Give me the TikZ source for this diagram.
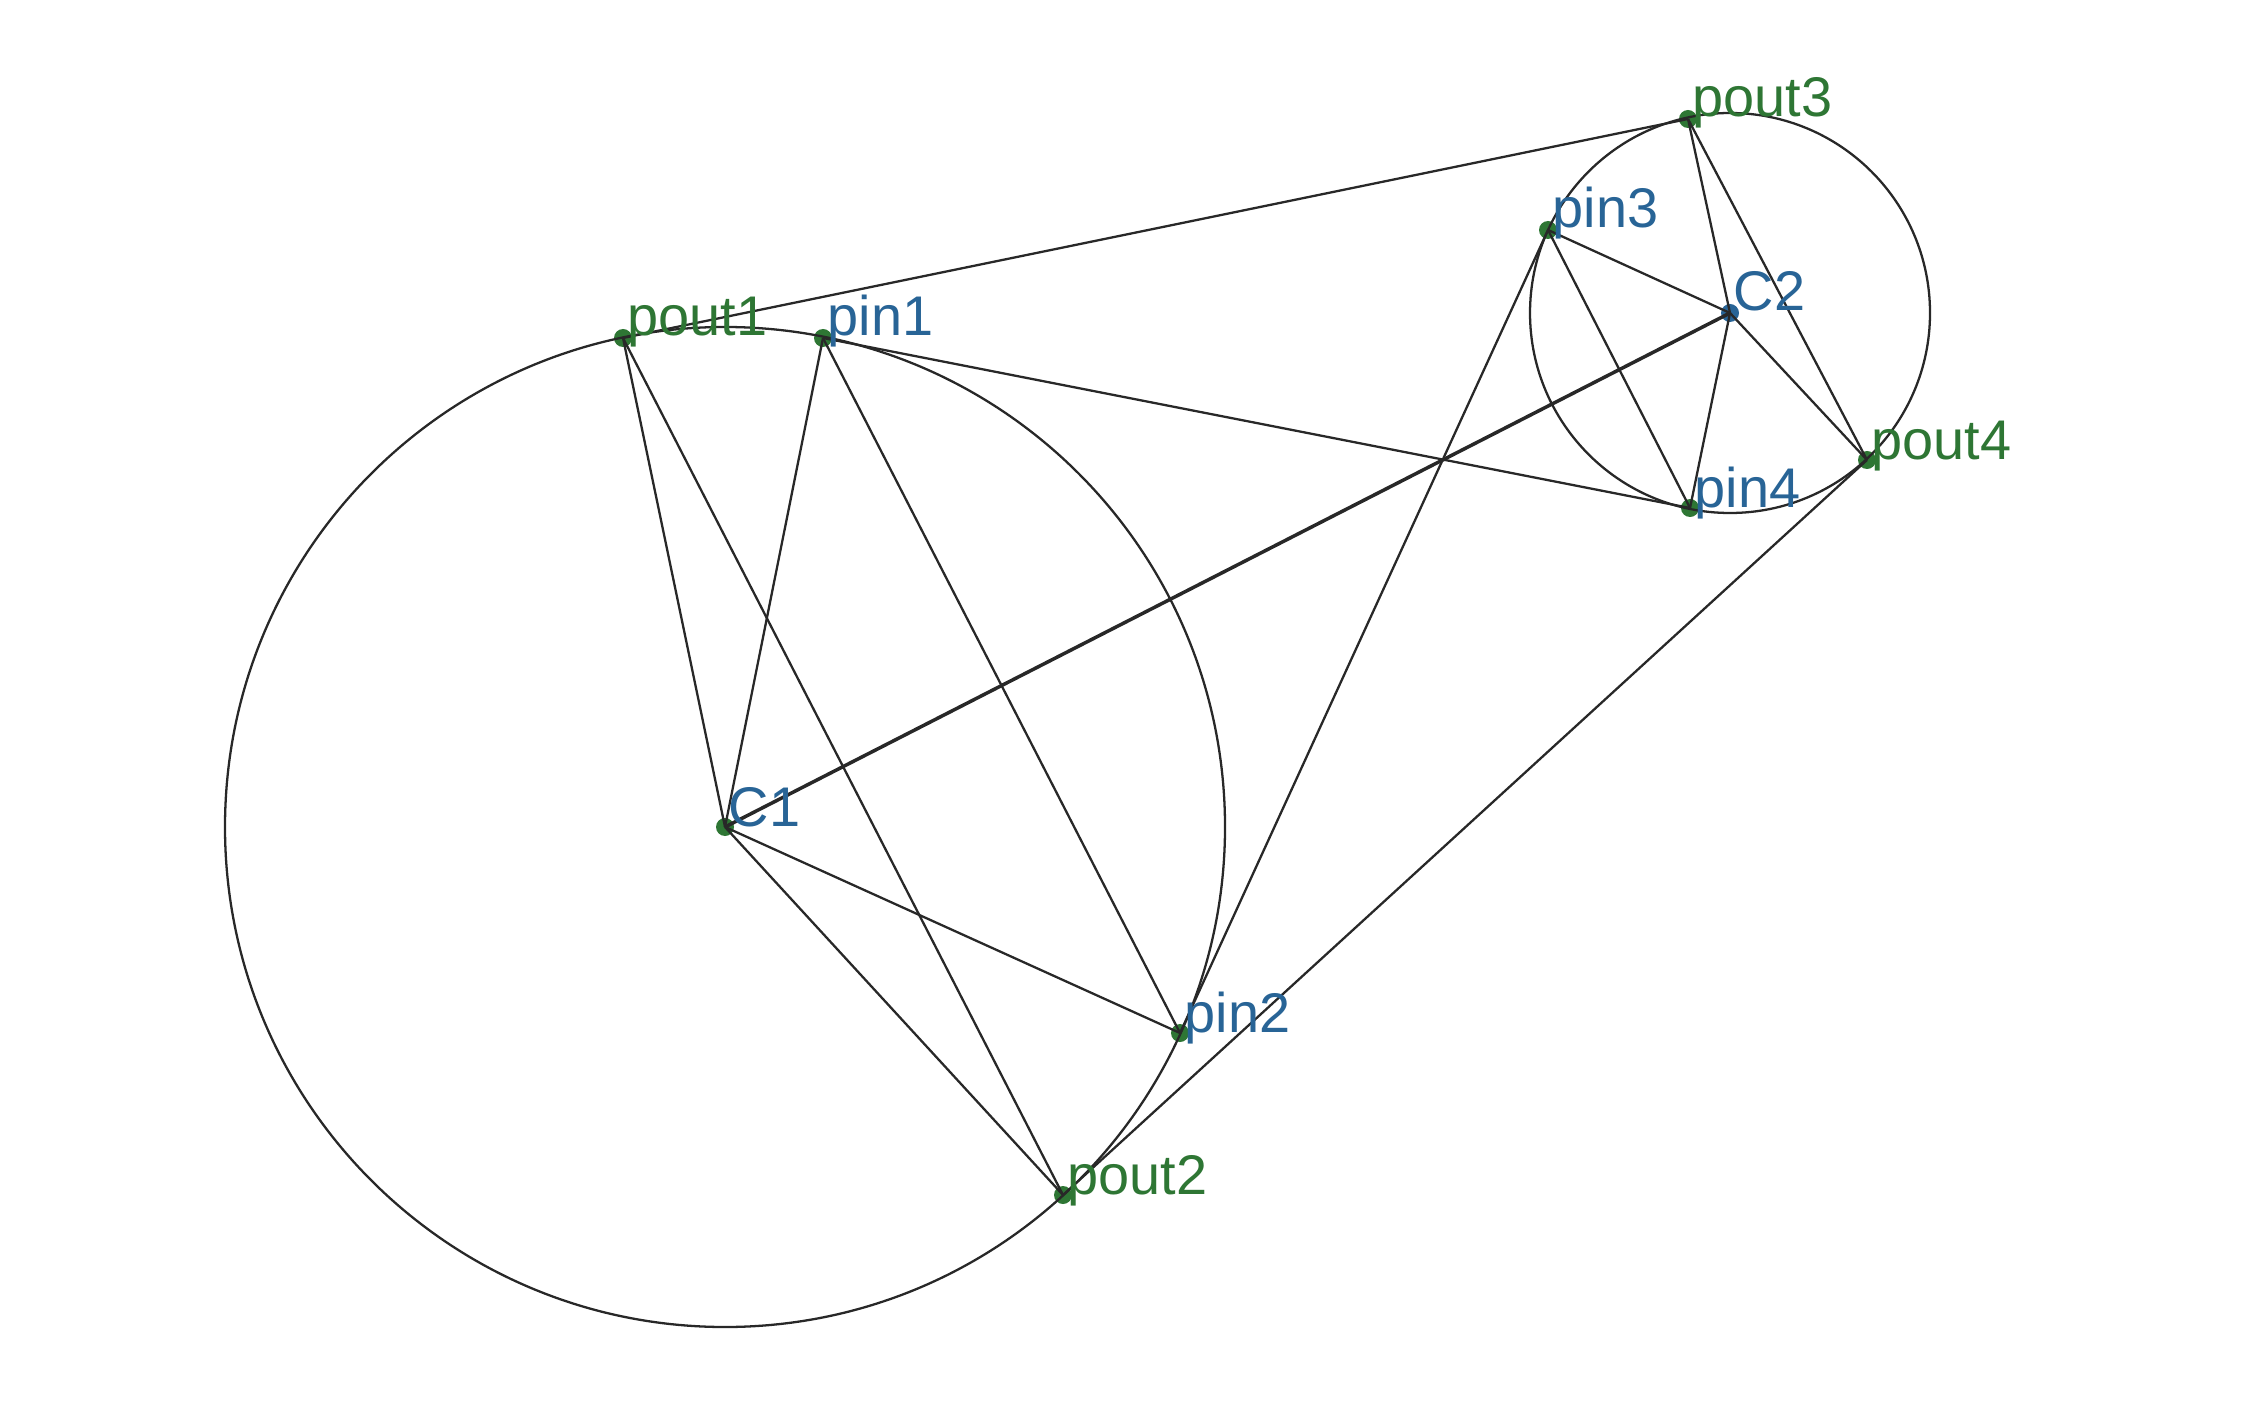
\documentclass[tikz,border=0pt]{standalone}
\usepackage{fontspec}
\setmainfont{Liberation Sans}
\usetikzlibrary{positioning,calc}
\definecolor{verde}{RGB}{46,118,52}
\definecolor{albastru}{RGB}{40,100,150}
\definecolor{linie}{RGB}{40,40,40}
\tikzset{
  punct/.style      = {circle, fill=verde, inner sep=0pt, minimum size=1.8mm},
  punctalb/.style   = {punct, fill=albastru},
  muchie/.style     = {draw=linie, line width=0.65pt},
  muchiedubla/.style= {muchie, line width=1pt},
  cerc/.style       = {draw=linie, line width=0.65pt},
  eticheta/.style   = {font=\fontsize{15.9}{19}\selectfont, inner sep=0pt, anchor=base west},
  etverde/.style    = {eticheta, text=verde},
  etalbastru/.style = {eticheta, text=albastru}
}

\begin{document}
\begin{tikzpicture}
  \useasboundingbox (0,0) rectangle (22.64,14.08);

  % noduri
  \node[punct]    (C1)    at (7.25,5.81)  {};
  \node[punctalb] (C2)    at (17.30,10.95) {};
  \node[punct]    (pout1) at (6.23,10.70) {};
  \node[punct]    (pin1)  at (8.23,10.70) {};
  \node[punct]    (pin2)  at (11.80,3.75) {};
  \node[punct]    (pout2) at (10.63,2.13) {};
  \node[punct]    (pin3)  at (15.48,11.78) {};
  \node[punct]    (pout3) at (16.88,12.89) {};
  \node[punct]    (pin4)  at (16.90,9.00) {};
  \node[punct]    (pout4) at (18.67,9.48) {};

  % cercuri
  \draw[cerc] (C1.center) circle (5);
  \draw[cerc] (C2.center) circle (2);

  % muchii
  \draw[muchie] (pout1.center) -- (pout3.center);
  \draw[muchie] (pout1.center) -- (C1.center);
  \draw[muchie] (pout1.center) -- (pout2.center);
  \draw[muchie] (pin1.center) -- (C1.center);
  \draw[muchie] (pin1.center) -- (pin2.center);
  \draw[muchie] (pin1.center) -- (pin4.center);
  \draw[muchiedubla] (C1.center) -- (C2.center);
  \draw[muchie] (C1.center) -- (pin2.center);
  \draw[muchie] (C1.center) -- (pout2.center);
  \draw[muchie] (pin2.center) -- (pin3.center);
  \draw[muchie] (pout2.center) -- (pout4.center);
  \draw[muchie] (pin3.center) -- (C2.center);
  \draw[muchie] (pin3.center) -- (pin4.center);
  \draw[muchie] (pout3.center) -- (C2.center);
  \draw[muchie] (pout3.center) -- (pout4.center);
  \draw[muchie] (C2.center) -- (pin4.center);
  \draw[muchie] (C2.center) -- (pout4.center);

  % etichete
  \node[etalbastru] (lC1)    at ($(C1)+(0.03,0.01)$)    {C1};
  \node[etalbastru] (lC2)    at ($(C2)+(0.03,0.02)$)    {C2};
  \node[etverde]    (lpout1) at ($(pout1)+(0.04,0.02)$) {pout1};
  \node[etalbastru] (lpin1)  at ($(pin1)+(0.04,0.02)$)  {pin1};
  \node[etalbastru] (lpin2)  at ($(pin2)+(0.04,0.01)$)  {pin2};
  \node[etverde]    (lpout2) at ($(pout2)+(0.04,0.01)$) {pout2};
  \node[etalbastru] (lpin3)  at ($(pin3)+(0.04,0.02)$)  {pin3};
  \node[etverde]    (lpout3) at ($(pout3)+(0.04,0.02)$) {pout3};
  \node[etalbastru] (lpin4)  at ($(pin4)+(0.04,0.0)$)   {pin4};
  \node[etverde]    (lpout4) at ($(pout4)+(0.04,0.0)$)  {pout4};
\end{tikzpicture}
\end{document}
